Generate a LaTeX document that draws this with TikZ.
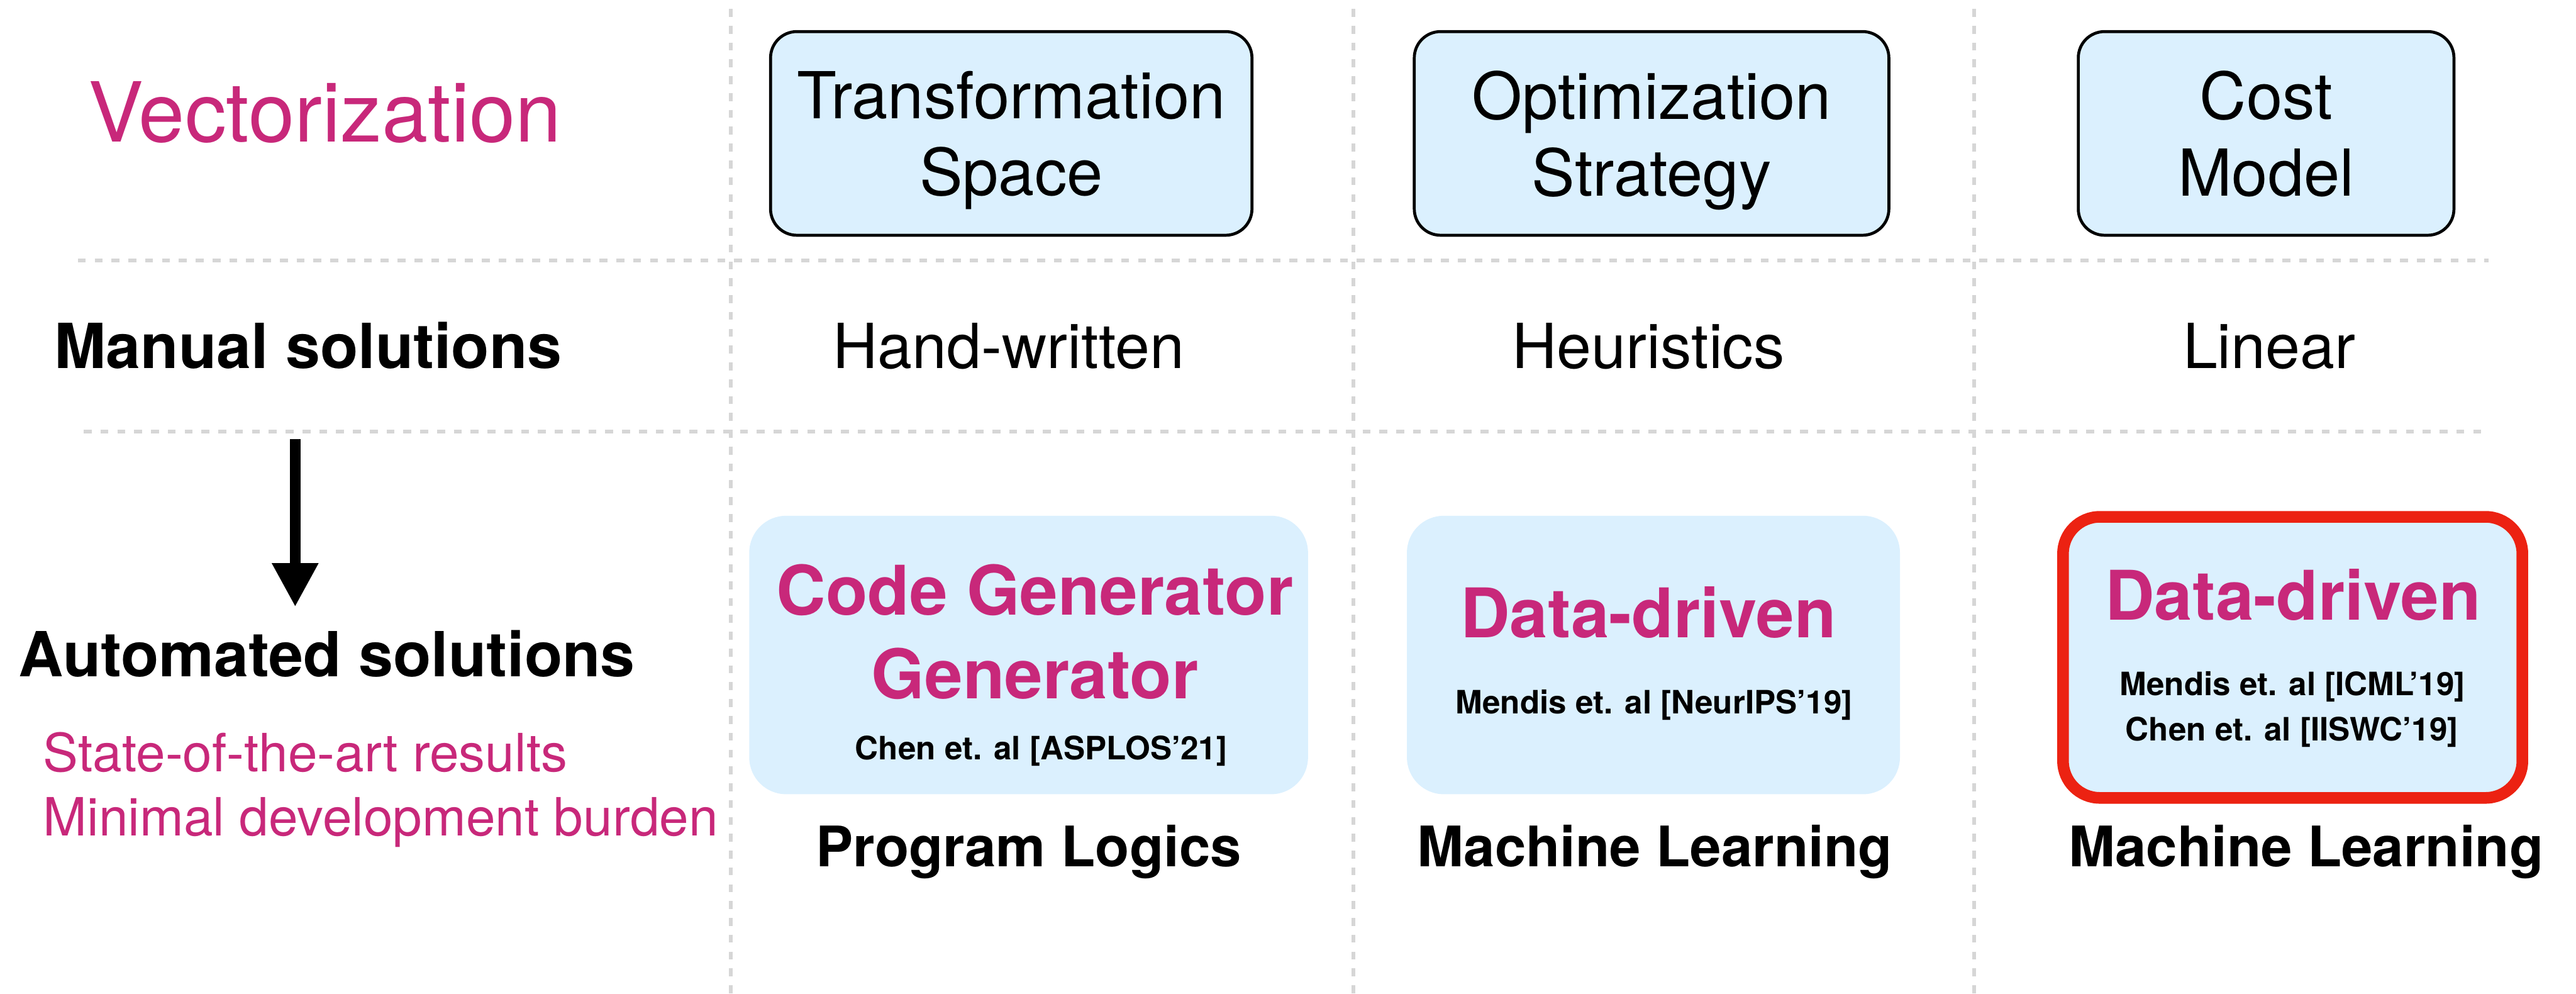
\documentclass[tikz,border=0pt]{standalone}
\usepackage{fontspec}
\setmainfont{TeX Gyre Heros}
\usetikzlibrary{arrows.meta}

\definecolor{vecpink}{RGB}{200,40,122}
\definecolor{boxblue}{RGB}{219,240,254}
\definecolor{gridgray}{RGB}{214,214,214}
\definecolor{hotred}{RGB}{236,34,18}

\begin{document}
\begin{tikzpicture}[>={Triangle[length=8.3mm,width=8.3mm]},thick,
  grid/.style={draw=gridgray,line width=2.1pt,dash pattern=on 4.3pt off 4.8pt},
  txt/.style={inner sep=0pt,anchor=base},
  headbox/.style={draw=black,line width=1.6pt,fill=boxblue,rounded corners=5mm,
    align=center,text depth=0pt,minimum height=3.87cm,font=\fontsize{35}{41.5}\selectfont},
  solbox/.style={fill=boxblue,rounded corners=7mm,minimum height=5.29cm},
  rowlabel/.style={txt,anchor=base west,font=\fontsize{33.6}{40}\selectfont\bfseries},
  cell/.style={txt,font=\fontsize{33.6}{40}\selectfont},
  note/.style={txt,anchor=base west,text=vecpink,font=\fontsize{28.5}{34}\selectfont},
  big/.style={txt,text=vecpink,font=\fontsize{37}{45}\selectfont\bfseries},
  cite/.style={txt,font=\fontsize{17.4}{21}\selectfont\bfseries},
  kind/.style={txt,font=\fontsize{30.2}{36}\selectfont\bfseries}]

\useasboundingbox (0,0) rectangle (48.96,18.88);

% Raster
\draw[grid] (1.48,13.93)--(47.30,13.93);
\draw[grid] (1.59,10.68)--(47.30,10.68);
\draw[grid] (13.89,18.71)--(13.89,0);
\draw[grid] (25.72,18.71)--(25.72,0);
\draw[grid] (37.52,18.71)--(37.52,0);

% Kopfzeile
\node[txt,anchor=base west,text=vecpink,font=\fontsize{44.8}{54}\selectfont] (vec) at (1.66,16.19) {Vectorization};

\node[headbox,minimum width=9.15cm] (tspace) at (19.22,16.345) {Transformation\\Space};
\node[headbox,minimum width=9.02cm] (ostrat) at (31.39,16.345) {Optimization\\Strategy};
\node[headbox,minimum width=7.14cm] (cmodel) at (43.07,16.345) {Cost\\Model};

% Manuelle Loesungen
\node[rowlabel] (manual) at (1.02,11.88) {Manual solutions};
\node[cell] (handw) at (19.17,11.88) {Hand-written};
\node[cell] (heur) at (31.33,11.88) {Heuristics};
\node[cell] (linear) at (43.13,11.88) {Linear};

% Pfeil nach unten
\coordinate (arrtop) at (5.61,10.54);
\coordinate (arrtip) at (5.61,7.35);
\draw[->,line width=5.7pt] (arrtop)--(arrtip);

% Automatisierte Loesungen
\node[rowlabel] (auto) at (0.34,6.03) {Automated solutions};
\node[note] (sota) at (0.81,4.22) {State-of-the-art results};
\node[note] (burden) at (0.81,3.00) {Minimal development burden};

% Spalte links
\node[solbox,minimum width=10.62cm] (cgbox) at (19.55,6.435) {};
\node[big] (cgA) at (19.67,7.20) {Code Generator};
\node[big] (cgB) at (19.67,5.60) {Generator};
\node[cite] (cgcite) at (19.79,4.45) {Chen et. al [ASPLOS’21]};
\node[kind] (proglog) at (19.55,2.42) {Program Logics};

% Spalte Mitte
\node[solbox,minimum width=9.37cm] (osbox) at (31.425,6.435) {};
\node[big] (osdata) at (31.33,6.76) {Data-driven};
\node[cite] (oscite) at (31.44,5.32) {Mendis et. al [NeurIPS’19]};
\node[kind] (osml) at (31.45,2.42) {Machine Learning};

% Spalte rechts
\node[solbox,draw=hotred,line width=6.3pt,minimum width=8.73cm,minimum height=5.34cm] (cmbox) at (43.575,6.39) {};
\node[big] (cmdata) at (43.58,7.10) {Data-driven};
\node[cite] (cmciteA) at (43.57,5.67) {Mendis et. al [ICML’19]};
\node[cite] (cmciteB) at (43.56,4.80) {Chen et. al [IISWC’19]};
\node[kind] (cmml) at (43.83,2.42) {Machine Learning};

\end{tikzpicture}
\end{document}
